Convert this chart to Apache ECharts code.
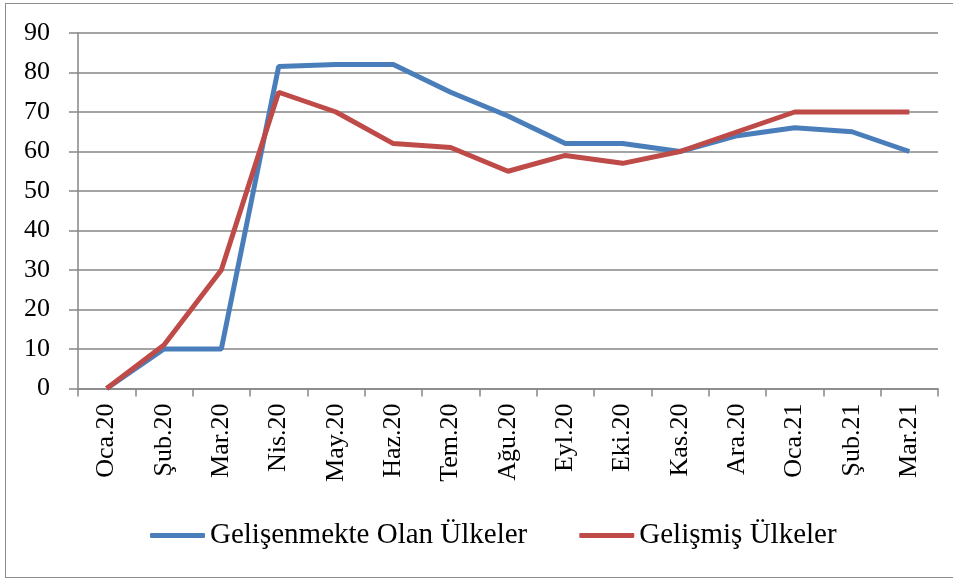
<!DOCTYPE html>
<html>
  <head>
    <meta charset="utf-8" />
    <style>
      html, body {margin: 0; padding: 0; background: #fff; overflow: hidden;}
      #frame {position: absolute; left: 5px; top: 3px; width: 970px; height: 573px;
              border: 1.5px solid #8c8c8c;}
      #chart {position: absolute; left: 0; top: 0; width: 953px; height: 580px;}
    </style>
    <script src="https://cdn.jsdelivr.net/npm/echarts@6.0.0/dist/echarts.min.js"></script>
  </head>
  <body>
    <div id="frame"></div>
    <div id="chart"></div>
    <script type="text/javascript">
      var months = ['Oca.20', 'Şub.20', 'Mar.20', 'Nis.20', 'May.20', 'Haz.20', 'Tem.20',
                    'Ağu.20', 'Eyl.20', 'Eki.20', 'Kas.20', 'Ara.20', 'Oca.21', 'Şub.21', 'Mar.21'];
      var developing = [0, 10, 10, 81.5, 82, 82, 75, 69, 62, 62, 60, 64, 66, 65, 60];
      var developed = [0, 11, 30, 75, 70, 62, 61, 55, 59, 57, 60, 65, 70, 70, 70];
      var seriesNames = ['Gelişenmekte Olan Ülkeler', 'Gelişmiş Ülkeler'];

      var font = "'Liberation Serif', serif";
      var gray = '#868686';

      var chart = echarts.init(document.getElementById('chart'));
      var option = {
        animation: false,
        textStyle: {fontFamily: font, color: '#000'},
        grid: {left: 78, right: 15, top: 33, bottom: 191.5},
        legend: {
          data: seriesNames,
          left: 145,
          top: 516,
          icon: 'roundRect',
          itemWidth: 55,
          itemHeight: 5,
          itemGap: 52,
          textStyle: {fontFamily: font, fontSize: 29, color: '#000'}
        },
        xAxis: {
          type: 'category',
          data: months,
          boundaryGap: true,
          axisLine: {lineStyle: {color: gray, width: 1.5}},
          axisTick: {show: true, length: 8, alignWithLabel: false, lineStyle: {color: gray, width: 1.5}},
          axisLabel: {rotate: 90, margin: 15, fontFamily: font, fontSize: 26, color: '#000', interval: 0}
        },
        yAxis: {
          type: 'value',
          min: 0,
          max: 90,
          interval: 10,
          axisLine: {show: true, lineStyle: {color: gray, width: 1.5}},
          axisTick: {show: true, length: 9, lineStyle: {color: gray, width: 1.5}},
          splitLine: {lineStyle: {color: gray, width: 1.5}},
          axisLabel: {margin: 28, fontFamily: font, fontSize: 26, color: '#000'}
        },
        series: [
          {
            name: seriesNames[0],
            type: 'line',
            data: developing,
            symbol: 'none',
            lineStyle: {color: '#4A7EBB', width: 5},
            itemStyle: {color: '#4A7EBB'}
          },
          {
            name: seriesNames[1],
            type: 'line',
            data: developed,
            symbol: 'none',
            lineStyle: {color: '#BE4B48', width: 5},
            itemStyle: {color: '#BE4B48'}
          }
        ]
      };
      chart.setOption(option);
    </script>
  </body>
</html>
